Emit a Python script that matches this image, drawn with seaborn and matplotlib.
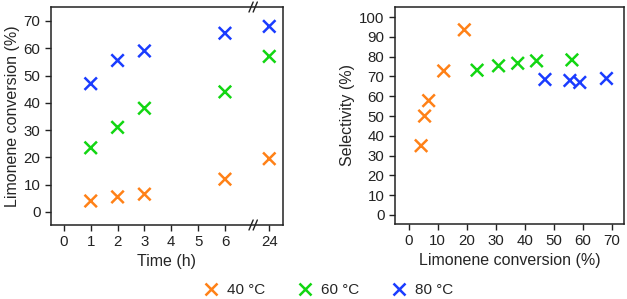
import numpy as np
import pandas as pd
import matplotlib
matplotlib.use("Agg")
import matplotlib.pyplot as plt
import seaborn as sns

# data
temps = ["40 °C", "60 °C", "80 °C"]
colors = ["#ff8117", "#12d612", "#1a3cff"]

time_h = [1, 2, 3, 6, 24]
conv_40 = [4.0, 5.5, 6.5, 12.0, 19.5]
conv_60 = [23.5, 31.0, 38.0, 44.0, 57.0]
conv_80 = [47.0, 55.5, 59.0, 65.5, 68.0]

sel_conv_40 = [4.3, 5.5, 6.9, 12.1, 19.2]
sel_40 = [35.0, 50.0, 57.8, 72.8, 93.6]
sel_conv_60 = [23.6, 31.0, 37.6, 44.1, 56.3]
sel_60 = [73.2, 75.4, 76.7, 77.9, 78.4]
sel_conv_80 = [47.0, 55.6, 59.0, 68.2]
sel_80 = [68.5, 68.0, 67.0, 69.0]

time_ticks = [0, 1, 2, 3, 4, 5, 6, 24]
BREAK_POS = 7.05   # where the axis break sits
POS_24 = 7.65      # axis position used for the 24 h point


def time_to_pos(t):
    """broken axis: 0-6 h linear, 24 h placed after the break"""
    return t if t <= 6 else POS_24


left_df = pd.DataFrame({
    "pos": [time_to_pos(t) for t in time_h] * 3,
    "conv": conv_40 + conv_60 + conv_80,
    "temp": [temps[0]] * 5 + [temps[1]] * 5 + [temps[2]] * 5,
})
right_df = pd.DataFrame({
    "conv": sel_conv_40 + sel_conv_60 + sel_conv_80,
    "sel": sel_40 + sel_60 + sel_80,
    "temp": [temps[0]] * len(sel_40) + [temps[1]] * len(sel_60) + [temps[2]] * len(sel_80),
})

sns.set_style("ticks")
plt.rcParams["font.family"] = ["Liberation Sans", "DejaVu Sans"]
plt.rcParams["axes.linewidth"] = 1.1
plt.rcParams["axes.edgecolor"] = "#222222"
plt.rcParams["xtick.major.size"] = 4.5
plt.rcParams["ytick.major.size"] = 4.5
plt.rcParams["xtick.major.width"] = 1.0
plt.rcParams["ytick.major.width"] = 1.0

fig = plt.figure(figsize=(6.27, 2.99), dpi=100)
ax1 = fig.add_axes([0.0813, 0.2475, 0.370, 0.729])
ax2 = fig.add_axes([0.630, 0.251, 0.365, 0.726])

palette = dict(zip(temps, colors))
mk = dict(marker="x", s=80, linewidth=1.8)

sns.scatterplot(data=left_df, x="pos", y="conv", hue="temp", palette=palette,
                ax=ax1, legend=False, **mk)
sns.scatterplot(data=right_df, x="conv", y="sel", hue="temp", palette=palette,
                ax=ax2, legend=False, **mk)

# left panel
ax1.set_xlim(-0.48, 8.16)
ax1.set_ylim(-4.8, 75.1)
ax1.set_xticks([time_to_pos(t) for t in time_ticks])
ax1.set_xticklabels([str(t) for t in time_ticks])
ax1.set_yticks(np.arange(0, 71, 10))
ax1.set_xlabel("Time (h)", fontsize=11.5, labelpad=3)
ax1.set_ylabel("Limonene conversion (%)", fontsize=11.5, labelpad=3)

# break marks "//" on top and bottom spines
bx = (BREAK_POS + 0.48) / 8.64
for yb in (0, 1):
    for off in (-0.009, 0.009):
        ax1.plot([bx + off - 0.009, bx + off + 0.009],
                 [yb - 0.023, yb + 0.023],
                 transform=ax1.transAxes, color="#222222",
                 lw=1.0, clip_on=False)

# right panel
ax2.set_xlim(-4.7, 74.2)
ax2.set_ylim(-4.55, 105.2)
ax2.set_xticks(np.arange(0, 71, 10))
ax2.set_yticks(np.arange(0, 101, 10))
ax2.set_xlabel("Limonene conversion (%)", fontsize=11.5, labelpad=3)
ax2.set_ylabel("Selectivity (%)", fontsize=11.5, labelpad=3)

for ax in (ax1, ax2):
    ax.tick_params(labelsize=10.8, pad=3, colors="#222222")
    for sp in ax.spines.values():
        sp.set_visible(True)

# shared legend along the bottom
handles = [plt.Line2D([], [], marker="x", color=c, linestyle="none",
                      markersize=9, markeredgewidth=1.8) for c in colors]
fig.legend(handles, temps, loc="lower center", ncol=3, frameon=False,
           fontsize=11, bbox_to_anchor=(0.522, -0.04), columnspacing=2.0,
           handletextpad=0.45, handlelength=1.2)

fig.savefig("out.png", dpi=100)
